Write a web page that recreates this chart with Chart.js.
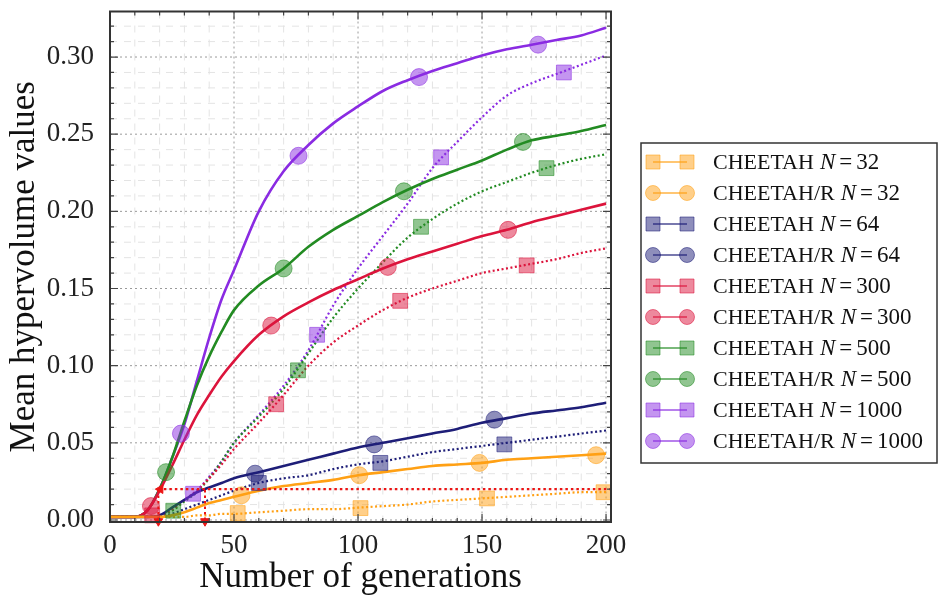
<!DOCTYPE html>
<html lang="en">
<head>
<meta charset="UTF-8">
<title>Mean hypervolume values</title>
<script src="https://cdn.jsdelivr.net/npm/chart.js"></script>
<style>
    body { margin: 0; background: #fff; }
    canvas { display: block; }
</style>
</head>
<body>
<canvas id="hvChart" width="939" height="599"></canvas>
<script>
const generations = [0, 5, 10, 15, 20, 25, 30, 35, 40, 45, 50, 60, 70, 80, 90, 100, 110, 120, 130, 140, 150, 160, 170, 180, 190, 200];

const cheetah32 = [0.002, 0.002, 0.002, 0.002, 0.002, 0.002, 0.002, 0.003, 0.003, 0.004, 0.004, 0.005, 0.006, 0.007, 0.007, 0.008, 0.009, 0.010, 0.012, 0.013, 0.014, 0.015, 0.016, 0.017, 0.018, 0.018];
const cheetahR32 = [0.002, 0.002, 0.002, 0.002, 0.002, 0.003, 0.005, 0.008, 0.011, 0.013, 0.015, 0.019, 0.022, 0.024, 0.026, 0.029, 0.031, 0.033, 0.035, 0.036, 0.037, 0.039, 0.040, 0.041, 0.042, 0.043];
const cheetah64 = [0.002, 0.002, 0.002, 0.002, 0.002, 0.004, 0.007, 0.010, 0.013, 0.016, 0.019, 0.024, 0.027, 0.029, 0.033, 0.036, 0.038, 0.041, 0.044, 0.046, 0.048, 0.050, 0.052, 0.054, 0.056, 0.058];
const cheetahR64 = [0.002, 0.002, 0.002, 0.002, 0.003, 0.008, 0.013, 0.018, 0.021, 0.024, 0.027, 0.031, 0.035, 0.039, 0.043, 0.047, 0.050, 0.053, 0.056, 0.059, 0.063, 0.066, 0.069, 0.071, 0.073, 0.076];
const cheetah300 = [0.002, 0.002, 0.002, 0.002, 0.003, 0.007, 0.013, 0.019, 0.027, 0.036, 0.046, 0.063, 0.081, 0.100, 0.115, 0.126, 0.136, 0.144, 0.150, 0.155, 0.160, 0.163, 0.166, 0.169, 0.173, 0.176];
const cheetahR300 = [0.002, 0.002, 0.002, 0.006, 0.019, 0.035, 0.052, 0.068, 0.081, 0.093, 0.103, 0.120, 0.132, 0.141, 0.149, 0.156, 0.163, 0.169, 0.174, 0.179, 0.184, 0.188, 0.193, 0.197, 0.201, 0.205];
const cheetah500 = [0.002, 0.002, 0.002, 0.002, 0.003, 0.006, 0.012, 0.018, 0.027, 0.038, 0.050, 0.067, 0.085, 0.108, 0.131, 0.150, 0.167, 0.183, 0.195, 0.205, 0.213, 0.219, 0.225, 0.230, 0.234, 0.237];
const cheetahR500 = [0.002, 0.002, 0.002, 0.006, 0.020, 0.040, 0.064, 0.087, 0.106, 0.122, 0.136, 0.152, 0.163, 0.177, 0.188, 0.197, 0.206, 0.214, 0.221, 0.227, 0.233, 0.240, 0.246, 0.249, 0.252, 0.256];
const cheetah1000 = [0.002, 0.002, 0.002, 0.002, 0.003, 0.007, 0.013, 0.019, 0.028, 0.038, 0.050, 0.068, 0.087, 0.110, 0.139, 0.163, 0.184, 0.205, 0.228, 0.245, 0.261, 0.275, 0.283, 0.289, 0.295, 0.301];
const cheetahR1000 = [0.002, 0.002, 0.002, 0.006, 0.020, 0.040, 0.062, 0.090, 0.118, 0.143, 0.162, 0.200, 0.226, 0.243, 0.257, 0.268, 0.278, 0.285, 0.291, 0.296, 0.301, 0.305, 0.308, 0.311, 0.314, 0.319];

// marker positions [generation, value]
const cheetah32Marks = [[51.5, 0.0045], [101, 0.0077], [152, 0.014], [199, 0.018]];
const cheetahR32Marks = [[53, 0.016], [100.5, 0.029], [149, 0.037], [196, 0.042]];
const cheetah64Marks = [[60, 0.024], [109, 0.037], [159, 0.049]];
const cheetahR64Marks = [[58.5, 0.030], [106.5, 0.049], [155, 0.065]];
const cheetah300Marks = [[17, 0.003], [67, 0.075], [117, 0.142], [168, 0.165]];
const cheetahR300Marks = [[16.5, 0.009], [65, 0.126], [112, 0.164], [160.5, 0.188]];
const cheetah500Marks = [[25.5, 0.006], [75.8, 0.097], [125.4, 0.190], [176, 0.228]];
const cheetahR500Marks = [[22.6, 0.031], [70, 0.163], [118.5, 0.213], [166.5, 0.245]];
const cheetah1000Marks = [[33.5, 0.017], [83.5, 0.120], [133.5, 0.235], [183, 0.290]];
const cheetahR1000Marks = [[28.6, 0.056], [76, 0.236], [124.6, 0.287], [172.6, 0.308]];

// threshold guide (red dotted)
const thresholdValue = 0.02;
const thresholdGens = [19.5, 38.3];

const algoNames = ["CHEETAH", "CHEETAH/R", "CHEETAH", "CHEETAH/R", "CHEETAH", "CHEETAH/R", "CHEETAH", "CHEETAH/R", "CHEETAH", "CHEETAH/R"];
const popSizes = [32, 32, 64, 64, 300, 300, 500, 500, 1000, 1000];
const seriesValues = [cheetah32, cheetahR32, cheetah64, cheetahR64, cheetah300, cheetahR300, cheetah500, cheetahR500, cheetah1000, cheetahR1000];
const seriesMarks = [cheetah32Marks, cheetahR32Marks, cheetah64Marks, cheetahR64Marks, cheetah300Marks, cheetahR300Marks, cheetah500Marks, cheetahR500Marks, cheetah1000Marks, cheetahR1000Marks];

const xTickValues = [0, 10, 20, 30, 40, 50, 60, 70, 80, 90, 100, 110, 120, 130, 140, 150, 160, 170, 180, 190, 200];
const yTickValues = [0, 0.01, 0.02, 0.03, 0.04, 0.05, 0.06, 0.07, 0.08, 0.09, 0.10, 0.11, 0.12, 0.13, 0.14, 0.15, 0.16, 0.17, 0.18, 0.19, 0.20, 0.21, 0.22, 0.23, 0.24, 0.25, 0.26, 0.27, 0.28, 0.29, 0.30, 0.31, 0.32];

const palette = ["255,160,20", "255,160,20", "30,30,120", "30,30,120", "220,20,60", "220,20,60", "34,139,34", "34,139,34", "138,43,226", "138,43,226"];
const SERIF = '"Liberation Serif", "Times New Roman", serif';

function isMajorX(v) { return Math.abs(v % 50) < 1e-6; }
function isMajorY(v) { const r = Math.round(v / 0.05); return Math.abs(v - r * 0.05) < 1e-6; }

const datasets = [];
seriesValues.forEach((vals, i) => {
    const rgb = palette[i];
    const isR = algoNames[i] === "CHEETAH/R";
    datasets.push({
        type: "line",
        data: generations.map((g, k) => ({ x: g, y: vals[k] })),
        borderColor: "rgb(" + rgb + ")",
        borderWidth: isR ? 2.6 : 2.2,
        borderDash: isR ? [] : [2, 2.5],
        pointRadius: 0,
        cubicInterpolationMode: "monotone",
        order: 2
    });
    datasets.push({
        type: "scatter",
        data: seriesMarks[i].map(m => ({ x: m[0], y: m[1] })),
        pointStyle: isR ? "circle" : "rect",
        pointRadius: isR ? 8.5 : 10.5,
        backgroundColor: "rgba(" + rgb + ",0.5)",
        borderColor: "rgba(" + rgb + ",0.55)",
        borderWidth: 1,
        clip: false,
        order: 1
    });
});

// red threshold guide lines
const guideStyle = { type: "line", borderColor: "rgb(235,20,20)", borderWidth: 2.4, borderDash: [2.5, 3], pointRadius: 0, order: 0 };
datasets.push(Object.assign({}, guideStyle, { data: [{ x: thresholdGens[0], y: thresholdValue }, { x: 202, y: thresholdValue }] }));
thresholdGens.forEach(g => {
    datasets.push(Object.assign({}, guideStyle, { borderWidth: 2, data: [{ x: g, y: 0 }, { x: g, y: thresholdValue }] }));
});
datasets.push({
    type: "scatter",
    data: thresholdGens.map(g => ({ x: g, y: -0.0008 })),
    pointStyle: "triangle",
    rotation: 180,
    pointRadius: 5,
    backgroundColor: "rgb(235,20,20)",
    borderColor: "rgb(235,20,20)",
    clip: false,
    order: 0
});
datasets.push({
    type: "scatter",
    data: [{ x: thresholdGens[0] + 0.8, y: thresholdValue }],
    pointStyle: "triangle",
    rotation: 270,
    pointRadius: 5,
    backgroundColor: "rgb(235,20,20)",
    borderColor: "rgb(235,20,20)",
    order: 0
});

// grid, frame and inward ticks
const framePlugin = {
    id: "frame",
    beforeDatasetsDraw(chart) {
        const { ctx, chartArea: a, scales: { x, y } } = chart;
        ctx.save();
        ctx.lineWidth = 1;
        x.ticks.forEach(t => {
            const px = x.getPixelForValue(t.value);
            const major = isMajorX(t.value);
            ctx.strokeStyle = major ? "#9a9a9a" : "#e4e4e4";
            ctx.setLineDash(major ? [2, 3] : [7, 7]);
            ctx.beginPath(); ctx.moveTo(px, a.top); ctx.lineTo(px, a.bottom); ctx.stroke();
        });
        y.ticks.forEach(t => {
            const py = y.getPixelForValue(t.value);
            const major = isMajorY(t.value);
            ctx.strokeStyle = major ? "#9a9a9a" : "#e4e4e4";
            ctx.setLineDash(major ? [2, 3] : [7, 7]);
            ctx.beginPath(); ctx.moveTo(a.left, py); ctx.lineTo(a.right, py); ctx.stroke();
        });
        ctx.restore();
    },
    afterDraw(chart) {
        const { ctx, chartArea: a, scales: { x, y } } = chart;
        ctx.save();
        ctx.setLineDash([]);
        ctx.strokeStyle = "#444";
        ctx.lineWidth = 1.2;
        x.ticks.forEach(t => {
            const px = x.getPixelForValue(t.value);
            const len = isMajorX(t.value) ? 8 : 4;
            ctx.beginPath();
            ctx.moveTo(px, a.bottom); ctx.lineTo(px, a.bottom - len);
            ctx.moveTo(px, a.top); ctx.lineTo(px, a.top + len);
            ctx.stroke();
        });
        y.ticks.forEach(t => {
            const py = y.getPixelForValue(t.value);
            const len = isMajorY(t.value) ? 8 : 4;
            ctx.beginPath();
            ctx.moveTo(a.left, py); ctx.lineTo(a.left + len, py);
            ctx.moveTo(a.right, py); ctx.lineTo(a.right - len, py);
            ctx.stroke();
        });
        ctx.strokeStyle = "#333";
        ctx.lineWidth = 2;
        ctx.strokeRect(a.left, a.top, a.width, a.height);
        ctx.restore();
    }
};

// boxed legend on the right
const legendPlugin = {
    id: "sideLegend",
    afterDraw(chart) {
        const ctx = chart.ctx;
        const box = { x: 641, y: 143, w: 296, h: 320 };
        ctx.save();
        ctx.fillStyle = "#fff";
        ctx.fillRect(box.x, box.y, box.w, box.h);
        ctx.strokeStyle = "#333";
        ctx.lineWidth = 1.5;
        ctx.strokeRect(box.x, box.y, box.w, box.h);
        ctx.textBaseline = "middle";
        algoNames.forEach((name, i) => {
            const cy = box.y + 19 + i * 31;
            const rgb = palette[i];
            const isR = name === "CHEETAH/R";
            ctx.strokeStyle = "rgba(" + rgb + ",0.8)";
            ctx.lineWidth = 1.5;
            ctx.beginPath(); ctx.moveTo(653, cy); ctx.lineTo(687, cy); ctx.stroke();
            [653, 687].forEach(cx => {
                ctx.fillStyle = "rgba(" + rgb + ",0.5)";
                ctx.strokeStyle = "rgba(" + rgb + ",0.55)";
                ctx.lineWidth = 1;
                ctx.beginPath();
                if (isR) ctx.arc(cx, cy, 7.5, 0, Math.PI * 2);
                else ctx.rect(cx - 7, cy - 7, 14, 14);
                ctx.fill(); ctx.stroke();
            });
            ctx.fillStyle = "#111";
            let tx = 713;
            ctx.font = "22px " + SERIF;
            ctx.fillText(name, tx, cy + 1);
            tx += ctx.measureText(name).width + 6;
            ctx.font = "italic 23px " + SERIF;
            ctx.fillText("N", tx, cy + 1);
            tx += ctx.measureText("N").width + 4;
            ctx.font = "23px " + SERIF;
            ctx.fillText("=", tx, cy + 1);
            tx += ctx.measureText("=").width + 4;
            ctx.fillText(String(popSizes[i]), tx, cy + 1);
        });
        ctx.restore();
    }
};

new Chart(document.getElementById("hvChart").getContext("2d"), {
    data: { datasets: datasets },
    options: {
        responsive: false,
        animation: false,
        layout: { padding: { left: 0, top: 1, right: 328, bottom: 0 } },
        plugins: { legend: { display: false }, tooltip: { enabled: false } },
        scales: {
            x: {
                type: "linear",
                min: 0,
                max: 202,
                afterBuildTicks: s => { s.ticks = xTickValues.map(v => ({ value: v })); },
                afterFit: s => { s.height = 77; s.paddingLeft = 0; s.paddingRight = 0; },
                grid: { display: false },
                border: { display: false },
                ticks: {
                    autoSkip: false,
                    maxRotation: 0,
                    padding: 0,
                    color: "#222",
                    font: { family: SERIF, size: 27 },
                    callback: v => isMajorX(v) ? String(v) : ""
                },
                title: {
                    display: true,
                    text: "Number of generations",
                    color: "#111",
                    font: { family: SERIF, size: 35, lineHeight: 1.2 },
                    padding: { top: 0, bottom: 0 }
                }
            },
            y: {
                type: "linear",
                min: -0.0013,
                max: 0.3295,
                afterBuildTicks: s => { s.ticks = yTickValues.map(v => ({ value: v })); },
                afterFit: s => { s.width = 110; s.paddingTop = 0; s.paddingBottom = 0; },
                grid: { display: false },
                border: { display: false },
                ticks: {
                    autoSkip: false,
                    padding: 8,
                    color: "#222",
                    font: { family: SERIF, size: 27 },
                    callback: v => isMajorY(v) ? v.toFixed(2) : ""
                },
                title: {
                    display: true,
                    text: "Mean hypervolume values",
                    color: "#111",
                    font: { family: SERIF, size: 35, lineHeight: 1.2 },
                    padding: { top: 4, bottom: 0 }
                }
            }
        }
    },
    plugins: [framePlugin, legendPlugin]
});
</script>
</body>
</html>
